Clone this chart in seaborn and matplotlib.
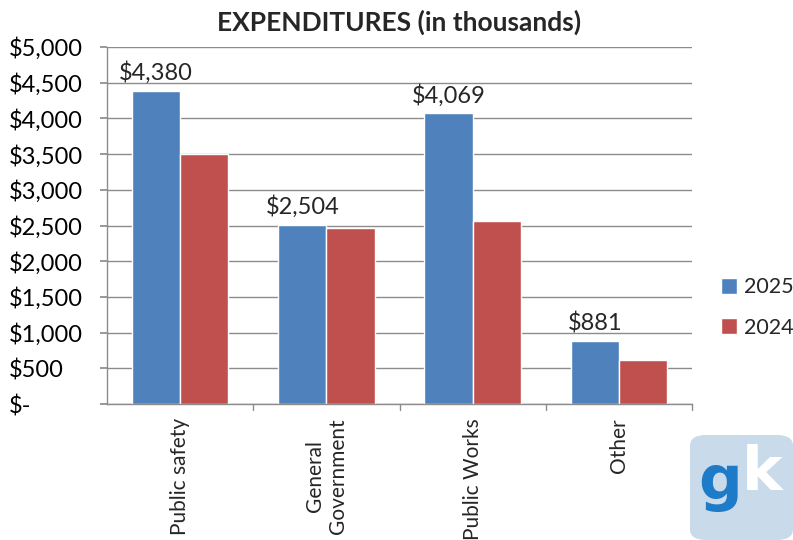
import matplotlib
matplotlib.use("Agg")
import matplotlib.pyplot as plt
import seaborn as sns
import pandas as pd
from matplotlib.patches import FancyBboxPatch
from matplotlib.ticker import FuncFormatter, MultipleLocator

categories = ["Public safety", "General\nGovernment", "Public Works", "Other"]
years = ["2025", "2024"]
values_2025 = [4380, 2504, 4069, 881]
values_2024 = [3500, 2460, 2570, 620]
colors = ["#4F81BD", "#C0504D"]

df = pd.DataFrame({
    "category": categories * 2,
    "year": [years[0]] * 4 + [years[1]] * 4,
    "value": values_2025 + values_2024,
})

sns.set_theme(style="white")
plt.rcParams["font.family"] = ["Lato", "DejaVu Sans"]

fig = plt.figure(figsize=(7.93, 5.40), dpi=100)
ax = fig.add_axes([107 / 793, 1 - 404 / 540, (692 - 107) / 793, (404 - 47) / 540])

sns.barplot(data=df, x="category", y="value", hue="year", hue_order=years,
            palette=colors, width=0.66, saturation=1, ax=ax, legend=True)

ax.set_ylim(0, 5000)
ax.set_xlim(-0.5, 3.5)
ax.yaxis.set_major_locator(MultipleLocator(500))
ax.grid(axis="y", color="#8c8c8c", linewidth=1)
ax.set_axisbelow(True)

def fmt(v, pos):
    if v == 0:
        return "$-"
    return "${:,.0f}".format(v)

ax.yaxis.set_major_formatter(FuncFormatter(fmt))
for lbl in ax.get_yticklabels():
    lbl.set_horizontalalignment("left")
ax.tick_params(axis="y", left=True, length=5, color="#8c8c8c", pad=66, labelsize=17, labelcolor="#000000")

# category ticks at boundaries
ax.set_xticks(range(len(categories)))
ax.set_xticklabels(categories, rotation=90, fontsize=15, va="top", ha="center", multialignment="center")
ax.tick_params(axis="x", bottom=False, pad=4)
for xb in [0.5, 1.5, 2.5, 3.5]:
    ax.plot([xb, xb], [0, -90], color="#8c8c8c", lw=1, clip_on=False)

for s in ["top", "right"]:
    ax.spines[s].set_visible(False)
for s in ["left", "bottom"]:
    ax.spines[s].set_color("#8c8c8c")
    ax.spines[s].set_linewidth(1)

ax.set_xlabel("")
ax.set_ylabel("")

# data labels on 2025 series
cont = ax.containers[0]
ax.bar_label(cont, labels=["${:,.0f}".format(v) for v in values_2025], padding=5, fontsize=17)

ax.set_title("EXPENDITURES (in thousands)", fontsize=19, fontweight="bold", pad=12)

leg = ax.legend(loc="center left", bbox_to_anchor=(1.035, 0.27), frameon=False,
                fontsize=15.5, handlelength=0.75, handleheight=0.75, handletextpad=0.3,
                labelspacing=0.95, borderpad=0.2, borderaxespad=0.2)

# logo approximation
logo = FancyBboxPatch((690 / 793, 0.0), 103 / 793, 105 / 540,
                      boxstyle="round,pad=0,rounding_size=0.02",
                      transform=fig.transFigure, facecolor="#C9DAEA", edgecolor="none")
fig.patches.append(logo)
fig.text(720 / 793, 58 / 540, "g", transform=fig.transFigure, fontsize=44, fontweight="bold",
         color="#1E7BC8", ha="center", va="center", family="DejaVu Sans")
fig.text(762 / 793, 66 / 540, "k", transform=fig.transFigure, fontsize=44, fontweight="bold",
         color="#FFFFFF", ha="center", va="center", family="DejaVu Sans")

fig.savefig("out.png", dpi=100)
